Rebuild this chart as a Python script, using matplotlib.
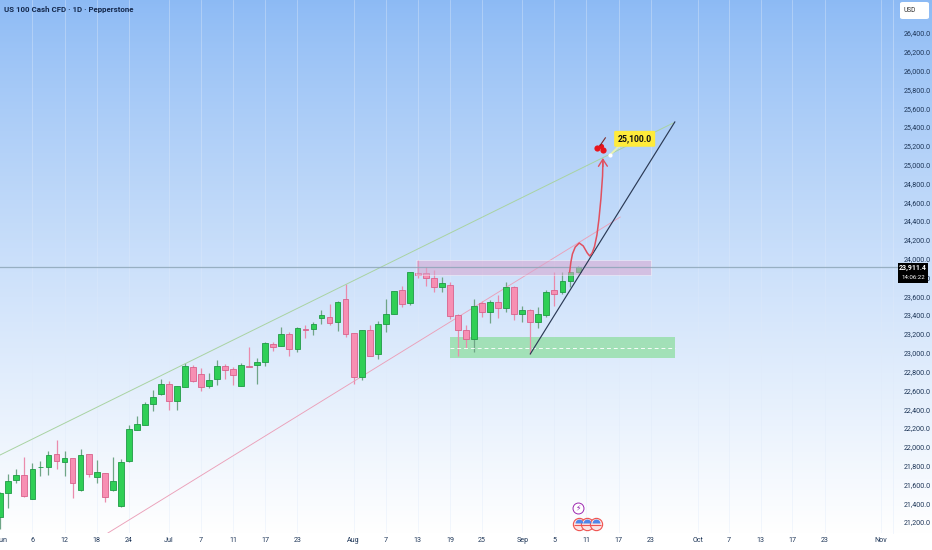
import numpy as np
import matplotlib
matplotlib.use("Agg")
import matplotlib.pyplot as plt
from matplotlib.patches import FancyBboxPatch, Rectangle
from matplotlib.path import Path

plt.rcParams['font.family'] = ['Roboto', 'DejaVu Sans']

opens = [21256,21504,21643,21696,21444,21781,21788,21919,21834,21877,21536,21926,21678,21717,21536,21366,
         21845,22178,22231,22458,22557,22664,22490,22635,22844,22777,22649,22724,22855,22830,22649,22858,22866,
         22901,23089,23071,23199,23043,23252,23248,23369,23379,23326,23567,23206,22741,23241,22986,23309,23415,
         23663,23532,23851,23844,23798,23702,23724,23398,23245,23150,23533,23437,23543,23472,23703,23416,23455,
         23330,23398,23671,23646,23767,23862]
closes = [21504,21639,21696,21472,21763,21788,21916,21852,21877,21618,21916,21710,21731,21462,21639,21838,
          22185,22242,22451,22525,22664,22483,22649,22855,22703,22639,22710,22855,22820,22759,22866,22848,22897,
          23100,23061,23195,23043,23262,23245,23305,23404,23316,23539,23202,22745,23238,22968,23305,23408,23652,
          23521,23854,23830,23791,23702,23738,23391,23238,23143,23501,23433,23543,23479,23703,23408,23455,23327,
          23408,23642,23628,23759,23855,23911]
highs = [21522,21710,21760,21887,21823,21852,21958,22072,21955,21877,21976,21926,21855,21717,21891,21866,
         22231,22327,22479,22603,22724,22703,22649,22894,22869,22834,22780,22922,22880,22851,22894,23057,22940,
         23117,23117,23277,23216,23270,23291,23330,23454,23514,23553,23727,23206,23241,23294,23337,23571,23660,
         23709,23854,23986,23915,23879,23801,23756,23412,23295,23572,23554,23561,23614,23749,23710,23501,23465,
         23490,23667,23855,23855,23862,23925]
lows = [21121,21352,21611,21469,21440,21689,21703,21763,21692,21451,21533,21675,21618,21416,21533,21362,
        21841,22174,22227,22383,22554,22391,22391,22632,22692,22593,22625,22656,22717,22653,22642,22844,22671,
        22858,23022,23067,22965,23011,23156,23188,23305,23294,23231,23170,22667,22709,22965,22933,23216,23411,
        23489,23507,23794,23713,23649,23642,23355,22969,23054,23011,23377,23313,23373,23437,23348,23323,22987,
        23267,23377,23497,23625,23703,23844]

price_ticks = [21200 + 200 * k for k in range(27)]
date_pos = [4,8,12,16,21,25,29,33,37,44,48,52,56,60,65,69,73,77,81,86.9,90.7,94.7,98.6,102.7,109.7]
date_labels = ['6','12','18','24','Jul','7','11','17','23','Aug','7','13','19','25','Sep','5','11','17','23',
               'Oct','7','13','17','23','Nov']
last_price = 23911.4
target_price = 25100
target_bar = 75.9

upper_line_bars = [-0.04, 83.8]
upper_line_prices = [21912, 25443]
lower_line_bars = [13.4, 77.2]
lower_line_prices = [21083, 24443]
black_line_bars = [66, 84]
black_line_prices = [22987, 25454]
path_bars = [70.9,71.05,71.25,71.6,72.1,72.6,73.1,73.4,73.7,74.0,74.3,74.55,74.8,75.0,75.05]
path_prices = [23858,23960,24050,24124,24167,24135,24060,24029,24060,24130,24252,24420,24640,24880,25050]

W, H = 932, 550
fig = plt.figure(figsize=(W / 100, H / 100), dpi=100)

bg = fig.add_axes([0, 0, 1, 1], zorder=0)
top = np.array([0.55, 0.73, 0.96])
bot = np.array([1.0, 1.0, 1.0])
t = np.linspace(0, 1, 550)[:, None, None]
t = np.clip(t / 0.97, 0, 1) ** 0.85
bg.imshow(top[None, None, :] * (1 - t) + bot[None, None, :] * t, aspect='auto', extent=[0, 1, 0, 1])
bg.axis('off')

ax = fig.add_axes([0, 17 / H, 893 / W, 533 / H], zorder=1)
ax.patch.set_alpha(0)
ax.set_xlim(-0.037, 111.17)
ax.set_ylim(21083, 26751)
for s in ax.spines.values():
    s.set_visible(False)
ax.yaxis.tick_right()
ax.set_yticks(price_ticks)
ax.set_yticklabels([f"{p:,.1f}" for p in price_ticks], fontsize=5.1, color='#1d3557')
ax.tick_params(axis='y', length=0, pad=8)
ax.set_xticks(date_pos)
ax.set_xticklabels(date_labels, fontsize=5.1, color='#1d3557')
ax.tick_params(axis='x', length=0, pad=3)
ax.text(0.2, 21083 - 4 * 10.6, 'Jun', fontsize=5.1, color='#1d3557', ha='center', va='top', clip_on=False)
for p in date_pos:
    ax.axvline(p, color='#dfeafa', lw=0.6, alpha=0.45, zorder=1)
ax.axvline(111.17, color='#dfeafa', lw=0.6, alpha=0.5, zorder=1, clip_on=False)

# candles
for i, (o, c, h, l) in enumerate(zip(opens, closes, highs, lows)):
    up = c >= o
    wick = '#6fa587' if up else '#ea8bac'
    face = '#2fcf56' if up else '#f78fb3'
    edge = '#1f9a45' if up else '#d9628c'
    ax.vlines(i, l, h, color=wick, lw=0.9, zorder=3)
    ax.add_patch(Rectangle((i - 0.36, min(o, c)), 0.72, max(abs(c - o), 8), facecolor=face,
                           edgecolor=edge, lw=0.6, zorder=4))

# zones
ax.add_patch(Rectangle((51.8, 23827), 29.2, 159, facecolor='#d9a6cf', alpha=0.55,
                       edgecolor='white', lw=0.5, zorder=5))
ax.add_patch(Rectangle((56, 22939), 28, 228, facecolor='#7fdc8e', alpha=0.62,
                       edgecolor='none', zorder=2.5))
ax.plot([56, 84], [23053, 23053], color='white', lw=0.7, ls=(0, (4, 3)), alpha=0.9, zorder=5)

# last price line
ax.plot([0, 111.8], [last_price, last_price], color='#8aa3b5', lw=0.9, alpha=0.8, zorder=5, clip_on=False)

# trend lines
ax.plot(upper_line_bars, upper_line_prices, color='#a9d3a2', lw=0.7, zorder=3)
ax.plot(lower_line_bars, lower_line_prices, color='#eba0b9', lw=0.65, zorder=3)
ax.plot(black_line_bars, black_line_prices, color='#2b3a55', lw=0.85, zorder=6)

# projected path
ax.plot(path_bars, path_prices, color='#e0505f', lw=1.1, zorder=7)
ax.annotate('', xy=(path_bars[-1] - 0.02, 25100), xytext=(path_bars[-1], 24950),
            arrowprops=dict(arrowstyle='->,head_width=0.32,head_length=0.5', color='#e0505f', lw=1.0),
            zorder=7)

# target marker and label
ax.plot([target_bar, target_bar + 2], [target_price, target_price + 170], color='#e9f2b0', lw=1.3, zorder=6)
ax.scatter([target_bar], [target_price], s=9, color='white', zorder=8, linewidths=0)
ax.text(79.0, 25275, f"{target_price:,.1f}", fontsize=6.2, fontweight='bold', color='#111111',
        ha='center', va='center', zorder=9,
        bbox=dict(boxstyle='round,pad=0.4,rounding_size=0.15', facecolor='#ffeb3b', edgecolor='none'))

# cherries
ax.scatter([74.35, 75.05], [25180, 25160], s=20, color='#e8141c', zorder=8, linewidths=0)
ax.scatter([74.75], [25195], s=14, color='#e8141c', zorder=8, linewidths=0)
ax.plot([74.7, 75.35], [25205, 25285], color='#7a2b2b', lw=0.8, zorder=8)

# event badges
event_bars = [72.05, 73.1, 74.15]
ax.scatter([72.0], [21349], s=62, facecolor='white', edgecolor='#9c27b0', lw=0.7, zorder=8)
ax.text(72.0, 21349, '\u26a1', fontsize=5.5, family='DejaVu Sans', color='#8e24aa', ha='center', va='center', zorder=9)
upper_half = Path.wedge(0, 180)
ax.scatter(event_bars, [21179] * 3, s=78, facecolor='#fde3e3', edgecolor='#ef5350', lw=0.8, zorder=8, clip_on=False)
ax.scatter(event_bars, [21190] * 3, s=32, marker=upper_half, color='#4f86e8', zorder=9, linewidths=0)
ax.hlines([21165] * 3, [b - 0.6 for b in event_bars], [b + 0.6 for b in event_bars], color='#ef5350', lw=0.8, zorder=9)

# overlay elements in figure space
fig.text(4 / W, 1 - 9.5 / H, 'US 100 Cash CFD \u00b7 1D \u00b7 Pepperstone', fontsize=5.7, fontweight='bold',
         color='#14294d', ha='left', va='center')
fig.patches.append(FancyBboxPatch((900 / W, 1 - 19 / H), 29 / W, 17 / H, boxstyle='round,pad=0,rounding_size=0.003',
                                  transform=fig.transFigure, facecolor='white', edgecolor='none', figure=fig))
fig.text(910 / W, 1 - 10.5 / H, 'USD', fontsize=4.8, color='#333333', ha='center', va='center')
fig.patches.append(Rectangle((898 / W, 1 - 283 / H), 30 / W, 20 / H, transform=fig.transFigure,
                             facecolor='black', edgecolor='none', figure=fig))
fig.text(913 / W, 1 - 268 / H, f"{last_price:,.1f}", fontsize=5.0, fontweight='bold', color='white',
         ha='center', va='center', zorder=5)
fig.text(913 / W, 1 - 277.5 / H, '14:06:22', fontsize=4.4, color='white', ha='center', va='center', zorder=5)

fig.savefig('out.png', dpi=100)
